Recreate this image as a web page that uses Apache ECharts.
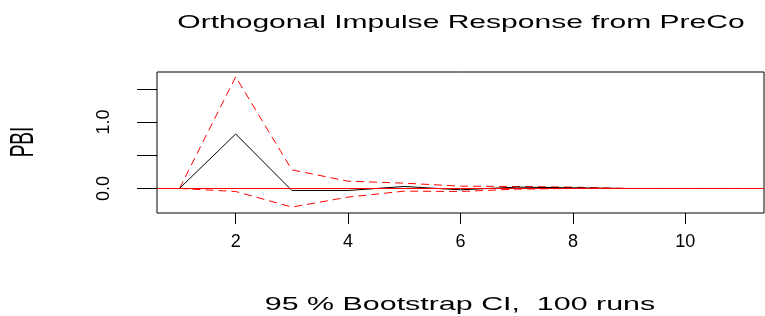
<!DOCTYPE html>
<html>
<head>
<meta charset="utf-8">
<script src="https://cdn.jsdelivr.net/npm/echarts@6/dist/echarts.min.js"></script>
<style>
  html, body { margin: 0; padding: 0; background: #fff; }
  #chart { width: 765px; height: 316px; }
</style>
</head>
<body>
<div id="chart"></div>
<script>
  // impulse response horizon, plotted at 1..11 like R's plot.varirf
  let steps = [1, 2, 3, 4, 5, 6, 7, 8, 9, 10, 11];
  let response = [0, 0.82, -0.03, -0.03, 0.03, -0.02, 0.02, 0.01, 0, 0, 0];
  let upper = [0, 1.68, 0.28, 0.11, 0.08, 0.035, 0.03, 0.02, 0, 0, 0];
  let lower = [0, -0.045, -0.28, -0.13, -0.04, -0.045, -0.01, 0, 0, 0, 0];

  let xTicks = [2, 4, 6, 8, 10];
  let yTicks = [0, 0.5, 1.0, 1.5];
  let yLabels = [0, 1.0];

  let font = "'Liberation Sans', Arial, sans-serif";

  function pairs(ys) {
    return steps.map((x, i) => [x, ys[i]]);
  }

  let chart = echarts.init(document.getElementById('chart'));

  let ciLine = {
    type: 'line',
    symbol: 'none',
    silent: true,
    z: 2,
    lineStyle: { color: '#ff0000', width: 1, type: [8, 5] }
  };

  chart.setOption({
    animation: false,
    grid: {
      left: 157, right: 1, top: 72, bottom: 103,
      show: true, borderColor: '#000', borderWidth: 1
    },
    graphic: [
      {
        type: 'text', x: 461, y: 23, scaleX: 1.58,
        style: {
          text: 'Orthogonal Impulse Response from PreCo',
          font: '19px ' + font, fill: '#000', align: 'center', verticalAlign: 'middle'
        }
      },
      {
        type: 'text', x: 460, y: 305, scaleX: 1.6,
        style: {
          text: '95 % Bootstrap CI,  100 runs',
          font: '19px ' + font, fill: '#000', align: 'center', verticalAlign: 'middle'
        }
      },
      {
        type: 'text', x: 24, y: 142, rotation: Math.PI / 2, scaleY: 1.7,
        style: {
          text: 'PBI',
          font: '19px ' + font, fill: '#000', align: 'center', verticalAlign: 'middle'
        }
      }
    ],
    xAxis: {
      type: 'value',
      min: 0.6,
      max: 11.4,
      splitLine: { show: false },
      axisLine: { show: false, onZero: false },
      axisTick: {
        show: true, length: 11, customValues: xTicks,
        lineStyle: { color: '#000', width: 1 }
      },
      axisLabel: {
        customValues: xTicks, margin: 20,
        color: '#000', fontSize: 18, fontFamily: font
      }
    },
    yAxis: {
      type: 'value',
      min: -0.369,
      max: 1.753,
      splitLine: { show: false },
      axisLine: { show: false, onZero: false },
      axisTick: {
        show: true, length: 20, customValues: yTicks,
        lineStyle: { color: '#000', width: 1 }
      },
      axisLabel: {
        customValues: yLabels, rotate: 90, margin: 44,
        color: '#000', fontSize: 18, fontFamily: font,
        formatter: v => v.toFixed(1)
      }
    },
    series: [
      Object.assign({}, ciLine, { name: 'upper', data: pairs(upper) }),
      Object.assign({}, ciLine, { name: 'lower', data: pairs(lower) }),
      {
        name: 'PBI',
        type: 'line',
        symbol: 'none',
        silent: true,
        z: 2,
        data: pairs(response),
        lineStyle: { color: '#000', width: 1 }
      },
      {
        // red zero line drawn on top of everything, like abline(h = 0)
        name: 'zero',
        type: 'line',
        data: [],
        z: 5,
        markLine: {
          silent: true,
          symbol: 'none',
          z: 5,
          label: { show: false },
          lineStyle: { color: '#ff0000', width: 1, type: 'solid' },
          data: [{ yAxis: 0 }]
        }
      }
    ]
  });
</script>
</body>
</html>
